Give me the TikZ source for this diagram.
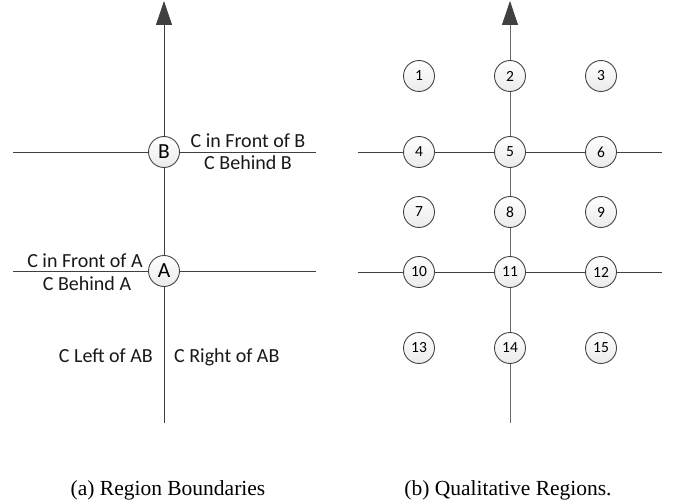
\documentclass[tikz,border=0pt]{standalone}
\usepackage{fontspec}
\setmainfont{Liberation Serif}
\newfontfamily\calib{Carlito}
\usetikzlibrary{arrows.meta}
\definecolor{linecol}{HTML}{404040}
\definecolor{vlinecol}{HTML}{6A6A6A}
\definecolor{circcol}{HTML}{454545}
\tikzset{
  pxcoords/.style={x=1pt,y=-1pt},
  region/.style={circle,draw=circcol,line width=0.9pt,minimum size=31pt,inner sep=0pt,
    top color=white,bottom color=black!8,font=\calib\fontsize{15.5}{17}\selectfont},
  bigcirc/.style={region,font=\calib\fontsize{21.5}{24}\selectfont},
  conn/.style={draw=linecol,line width=0.9pt},
  vconn/.style={draw=vlinecol,line width=0.9pt},
  arrowtip/.style={-{Triangle[width=16pt,length=24pt,color=linecol]}},
  lbl/.style={font=\calib\fontsize{20}{24}\selectfont,inner sep=0pt,text=black!90},
  captxt/.style={font=\fontsize{21.5}{24}\selectfont,inner sep=0pt}
}
\begin{document}
\begin{tikzpicture}[pxcoords]
\useasboundingbox[fill=white] (0,0) rectangle (673,503);
% ---- left panel
\coordinate (ltop) at (164,1);
\coordinate (lbot) at (164,423);
\coordinate (bl) at (13,152);
\coordinate (br) at (316,152);
\coordinate (al) at (13,271);
\coordinate (ar) at (316,271);
\node[bigcirc] (A) at (164,271) {A};
\node[bigcirc] (B) at (164,152) {B};
\draw[conn] (lbot) -- (A);
\draw[conn] (A) -- (B);
\draw[conn,arrowtip] (B) -- (ltop);
\draw[conn] (bl) -- (B);
\draw[conn] (B) -- (br);
\draw[conn] (al) -- (A);
\draw[conn] (A) -- (ar);
\node[lbl,anchor=base] (fb) at (248,147) {C in Front of B};
\node[lbl,anchor=base] (bb) at (248,169.5) {C Behind B};
\node[lbl,anchor=base] (fa) at (85,267.5) {C in Front of A};
\node[lbl,anchor=base] (ba) at (87,290) {C Behind A};
\node[lbl,anchor=base east] (lab) at (153,362.5) {C Left of AB};
\node[lbl,anchor=base west] (rab) at (174,362.5) {C Right of AB};
\node[captxt,anchor=base] (capa) at (168,495) {(a) Region Boundaries};
% ---- right panel
\coordinate (rtop) at (510,1);
\coordinate (rbot) at (510,423);
\coordinate (r1l) at (358,152);
\coordinate (r1r) at (662,152);
\coordinate (r2l) at (358,272);
\coordinate (r2r) at (662,272);
\foreach \n/\x/\y in {1/419/76,2/510/76,3/601/76,
  4/419/152,5/510/152,6/601/152,
  7/419/212,8/510/212,9/601/212,
  10/419/272,11/510/272,12/601/272,
  13/419/348,14/510/348,15/601/348}
  \node[region] (n\n) at (\x,\y) {\n};
\draw[vconn] (rbot) -- (n14);
\draw[vconn] (n14) -- (n11);
\draw[vconn] (n11) -- (n8);
\draw[vconn] (n8) -- (n5);
\draw[vconn] (n5) -- (n2);
\draw[vconn,arrowtip] (n2) -- (rtop);
\draw[conn] (r1l) -- (n4);
\draw[conn] (n4) -- (n5);
\draw[conn] (n5) -- (n6);
\draw[conn] (n6) -- (r1r);
\draw[conn] (r2l) -- (n10);
\draw[conn] (n10) -- (n11);
\draw[conn] (n11) -- (n12);
\draw[conn] (n12) -- (r2r);
\node[captxt,anchor=base] (capb) at (508,495) {(b) Qualitative Regions.};
\end{tikzpicture}
\end{document}
